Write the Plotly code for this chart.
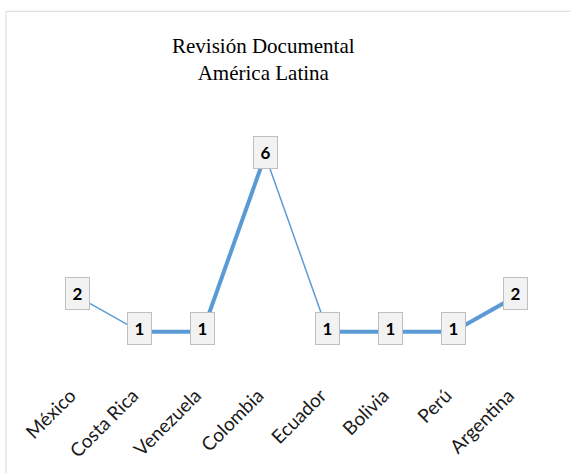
import plotly.graph_objects as go

countries = ["México", "Costa Rica", "Venezuela", "Colombia", "Ecuador", "Bolivia", "Perú", "Argentina"]
values = [2, 1, 1, 6, 1, 1, 1, 2]
segment_widths = [1.5, 4, 4, 1.5, 4, 4, 4]

W, H = 571, 474
L, R, T, B = 45.6, 23.6, 119.6, 106.6
LINE_COLOR = "#5B9BD5"
LABEL_SHIFT = 0.11  # category units; moves the slanted labels so their ends sit left of each point

fig = go.Figure()
for i in range(len(countries) - 1):
    fig.add_trace(go.Scatter(
        x=[countries[i], countries[i + 1]],
        y=[values[i], values[i + 1]],
        mode="lines",
        line=dict(color=LINE_COLOR, width=segment_widths[i]),
        hoverinfo="skip",
        showlegend=False,
    ))

# invisible carrier trace for the label axis
fig.add_trace(go.Scatter(
    x=list(range(len(countries))), y=values, xaxis="x2",
    mode="markers", marker=dict(opacity=0, size=1),
    hoverinfo="skip", showlegend=False,
))

for c, v in zip(countries, values):
    fig.add_annotation(
        x=c, y=v, text=f"<b>{v}</b>", showarrow=False,
        font=dict(family="Lato, Open Sans, sans-serif", size=17, color="#000000"),
        bgcolor="#F2F2F2", bordercolor="#BFBFBF", borderwidth=1,
        borderpad=5, width=13, height=21, yshift=3,
    )

pw = W - L - R
ph = H - T - B


def px_x(p):
    return (p - L) / pw


def px_y(p):
    return (H - B - p) / ph


# chart frame: top and left edges (rest lies outside the visible area)
fig.add_shape(type="line", xref="paper", yref="paper",
              x0=px_x(5.5), x1=px_x(W), y0=px_y(10.5), y1=px_y(10.5),
              line=dict(color="#D9D9D9", width=1), layer="below")
fig.add_shape(type="line", xref="paper", yref="paper",
              x0=px_x(5.5), x1=px_x(5.5), y0=px_y(10.5), y1=px_y(H),
              line=dict(color="#D9D9D9", width=1), layer="below")

fig.add_annotation(
    xref="paper", yref="paper",
    x=px_x(263.5), y=px_y(59), xanchor="center", yanchor="middle",
    text="Revisión Documental<br>América Latina", showarrow=False,
    font=dict(family="Liberation Serif, Times New Roman, serif", size=21, color="#000000"),
)

fig.update_layout(
    width=W, height=H,
    margin=dict(l=L, r=R, t=T, b=B, autoexpand=False),
    paper_bgcolor="white", plot_bgcolor="white",
    xaxis=dict(
        type="category", range=[-0.5, 7.5], categoryarray=countries,
        showgrid=False, zeroline=False, showline=False, showticklabels=False,
    ),
    xaxis2=dict(
        overlaying="x", side="bottom", anchor="y",
        range=[-0.5 + LABEL_SHIFT, 7.5 + LABEL_SHIFT],
        tickmode="array", tickvals=list(range(len(countries))), ticktext=countries,
        showgrid=False, zeroline=False, showline=False,
        ticks="outside", ticklen=0, tickangle=-45,
        ticklabelstandoff=9,
        tickfont=dict(family="Lato, Open Sans, sans-serif", size=19, color="#1a1a1a"),
    ),
    yaxis=dict(
        range=[0, 7], visible=False, showgrid=False, zeroline=False,
    ),
)

fig.write_html("out.html")
